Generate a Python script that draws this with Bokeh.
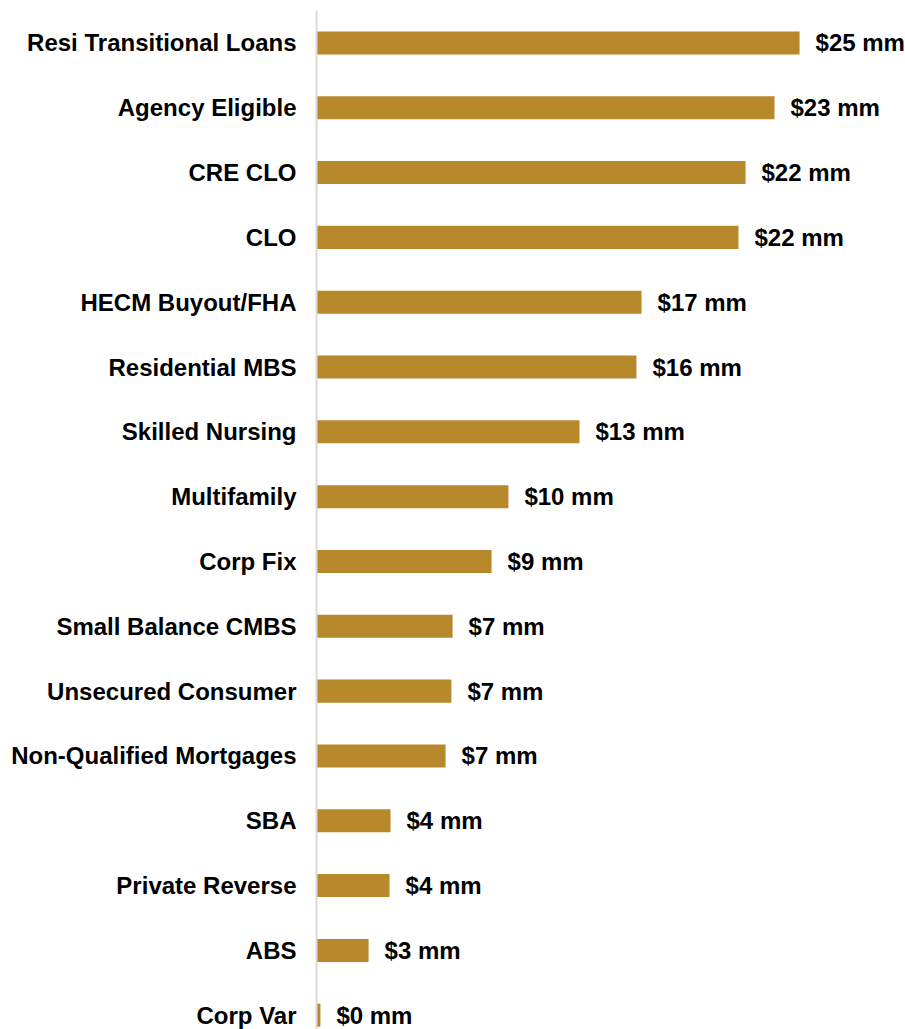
from bokeh.plotting import figure
from bokeh.models import Range1d, FixedTicker, ColumnDataSource
from bokeh.core.properties import value
from bokeh.embed import file_html
from bokeh.resources import INLINE

categories = ["Resi Transitional Loans", "Agency Eligible", "CRE CLO", "CLO",
              "HECM Buyout/FHA", "Residential MBS", "Skilled Nursing", "Multifamily",
              "Corp Fix", "Small Balance CMBS", "Unsecured Consumer",
              "Non-Qualified Mortgages", "SBA", "Private Reverse", "ABS", "Corp Var"]
amounts = [24.67, 23.39, 21.91, 21.55, 16.6, 16.34, 13.43, 9.8,
           8.94, 6.95, 6.89, 6.59, 3.78, 3.73, 2.66, 0.2]
value_labels = ["$25 mm", "$23 mm", "$22 mm", "$22 mm", "$17 mm", "$16 mm", "$13 mm", "$10 mm",
                "$9 mm", "$7 mm", "$7 mm", "$7 mm", "$4 mm", "$4 mm", "$3 mm", "$0 mm"]

pos = list(range(len(categories)))
src = ColumnDataSource(dict(y=pos, x=amounts, lab=value_labels))

FONT = "Liberation Sans"
GOLD = "#B8892A"

p = figure(width=905, height=1029, output_backend="svg", toolbar_location=None,
           x_range=Range1d(0, 30.08), y_range=Range1d(15.22, -0.5),
           min_border_left=316, min_border_right=0, min_border_top=10, min_border_bottom=0)
p.outline_line_color = None
p.xgrid.visible = False
p.ygrid.visible = False
p.xaxis.visible = False

p.hbar(y="y", right="x", left=0, height=0.355, source=src, fill_color=GOLD, line_color=None)
p.text(x="x", y="y", text="lab", source=src, x_offset=16, text_align="left",
       text_baseline="middle", text_font=value(FONT), text_font_style="bold",
       text_font_size="24px", text_color="black")

ya = p.yaxis[0]
ya.ticker = FixedTicker(ticks=pos)
ya.major_label_overrides = {i: c for i, c in zip(pos, categories)}
ya.major_tick_line_color = None
ya.minor_tick_line_color = None
ya.major_tick_out = 0
ya.major_tick_in = 0
ya.axis_line_color = "#D9D9D9"
ya.axis_line_width = 2
ya.major_label_standoff = 20
ya.major_label_text_font = FONT
ya.major_label_text_font_style = "bold"
ya.major_label_text_font_size = "24px"
ya.major_label_text_color = "black"

open("out.html", "w").write(file_html(p, INLINE))
